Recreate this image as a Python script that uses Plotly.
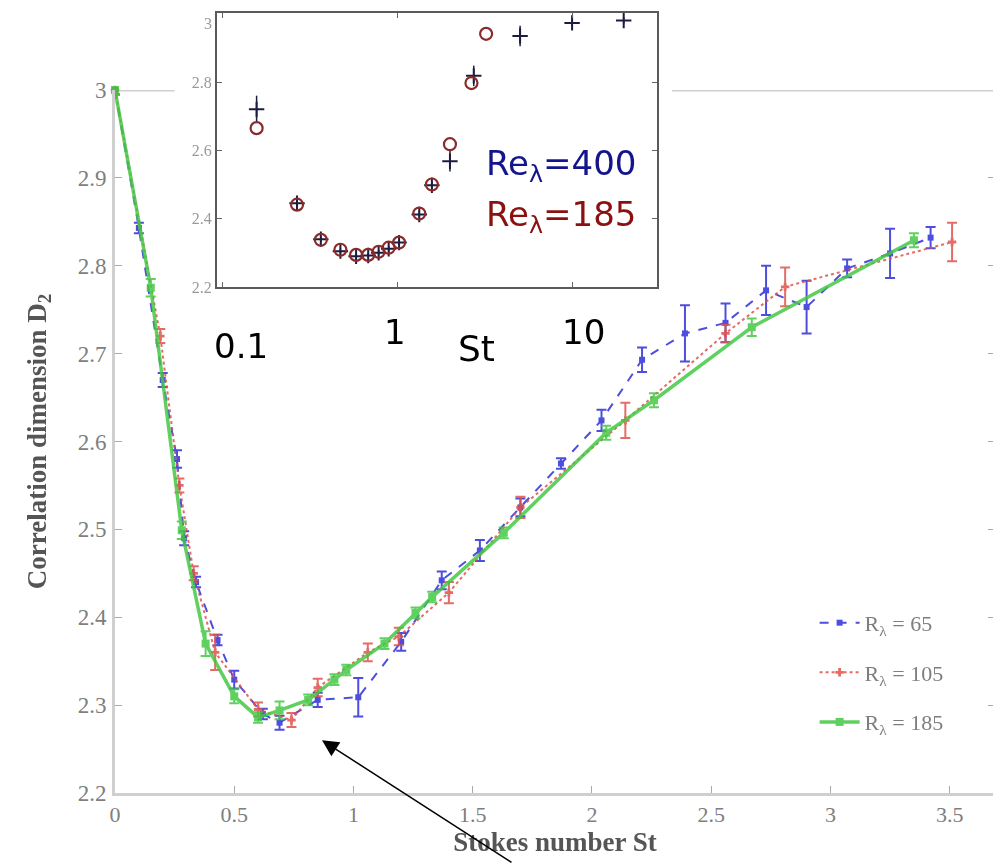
import plotly.graph_objects as go

# ---------------- main panel data (Stokes number vs correlation dimension) ----------------
st_65 = [0.00, 0.10, 0.20, 0.26, 0.29, 0.34, 0.43, 0.50, 0.62, 0.69, 0.85, 1.02, 1.20, 1.37,
         1.53, 1.70, 1.87, 2.04, 2.21, 2.39, 2.56, 2.73, 2.90, 3.07, 3.25, 3.42]
d2_65 = [3.000, 2.843, 2.670, 2.580, 2.490, 2.440, 2.374, 2.329, 2.290, 2.280, 2.306, 2.309, 2.372, 2.442,
         2.476, 2.525, 2.575, 2.624, 2.693, 2.723, 2.735, 2.772, 2.753, 2.797, 2.814, 2.832]
err_65 = [0.005, 0.006, 0.008, 0.010, 0.008, 0.006, 0.006, 0.010, 0.006, 0.008, 0.008, 0.022, 0.010, 0.010,
          0.012, 0.010, 0.006, 0.012, 0.014, 0.032, 0.022, 0.028, 0.030, 0.010, 0.028, 0.012]

st_105 = [0.00, 0.19, 0.27, 0.33, 0.42, 0.60, 0.74, 0.85, 1.06, 1.19, 1.40, 1.70, 2.14, 2.56, 2.81, 3.51]
d2_105 = [3.000, 2.720, 2.550, 2.450, 2.360, 2.295, 2.283, 2.320, 2.360, 2.378, 2.428, 2.525, 2.624, 2.723, 2.776, 2.827]
err_105 = [0.005, 0.008, 0.008, 0.008, 0.020, 0.008, 0.008, 0.010, 0.010, 0.010, 0.012, 0.012, 0.020, 0.010, 0.022, 0.022]

st_185 = [0.00, 0.15, 0.28, 0.38, 0.50, 0.60, 0.69, 0.81, 0.92, 0.97, 1.13, 1.26, 1.33, 1.63, 2.06, 2.26, 2.67, 3.35]
d2_185 = [3.000, 2.775, 2.499, 2.370, 2.310, 2.286, 2.294, 2.306, 2.329, 2.340, 2.370, 2.405, 2.423, 2.496, 2.610, 2.647, 2.730, 2.829]
err_185 = [0.005, 0.010, 0.010, 0.014, 0.008, 0.006, 0.010, 0.006, 0.006, 0.006, 0.006, 0.006, 0.006, 0.006, 0.008, 0.008, 0.010, 0.008]

main_x_ticks = [0, 0.5, 1, 1.5, 2, 2.5, 3, 3.5]
main_x_text = ["0", "0.5", "1", "1.5", "2", "2.5", "3", "3.5"]
main_y_ticks = [2.2, 2.3, 2.4, 2.5, 2.6, 2.7, 2.8, 2.9, 3.0]
main_y_text = ["2.2", "2.3", "2.4", "2.5", "2.6", "2.7", "2.8", "2.9", "3"]

legend_names = ["R<sub>λ</sub> = 65", "R<sub>λ</sub> = 105", "R<sub>λ</sub> = 185"]

# ---------------- inset data (log St) ----------------
inset_st_185 = [0.157, 0.267, 0.365, 0.472, 0.58, 0.68, 0.78, 0.89, 1.02, 1.33, 1.57, 1.99, 2.64, 3.2]
inset_d2_185 = [2.665, 2.441, 2.338, 2.309, 2.294, 2.294, 2.303, 2.315, 2.330, 2.415, 2.500, 2.618, 2.797, 2.941]

inset_st_400 = [0.157, 0.267, 0.365, 0.472, 0.58, 0.68, 0.78, 0.89, 1.02, 1.33, 1.57, 1.99, 2.72, 5.0, 9.9, 19.5]
inset_d2_400 = [2.720, 2.445, 2.340, 2.305, 2.290, 2.292, 2.300, 2.312, 2.330, 2.412, 2.498, 2.568, 2.818, 2.935, 2.973, 2.980]
inset_err_400 = [0.040, 0.010, 0.008, 0.008, 0.008, 0.008, 0.008, 0.008, 0.008, 0.010, 0.010, 0.030, 0.030, 0.030, 0.010, 0.010]

inset_x_ticks = [0.1, 1, 10]
inset_x_text = ["0.1", "1", "10"]
inset_y_ticks = [2.2, 2.4, 2.6, 2.8, 3.0]
inset_y_text = ["2.2", "2.4", "2.6", "2.8", ""]
inset_y_top_label = "3"

BLUE = "#2f2fd8"
RED = "#e0524c"
GREEN = "#44c844"
AXIS_GREY = "#cfcfcf"
TXT_GREY = "#7e7e7e"
SERIF = "Liberation Serif"

fig = go.Figure()

series = [
    (st_65, d2_65, err_65, BLUE, dict(dash="dash", width=2), dict(symbol="square", size=6)),
    (st_105, d2_105, err_105, RED, dict(dash="dot", width=2), dict(symbol="cross", size=7)),
    (st_185, d2_185, err_185, GREEN, dict(width=3.5), dict(symbol="square", size=8)),
]
for i, (xs, ys, es, col, ln, mk) in enumerate(series):
    fig.add_trace(go.Scatter(
        x=xs, y=ys, mode="lines+markers", name=legend_names[i], legendgroup=f"g{i}",
        line=dict(color=col, **ln), marker=dict(color=col, **mk), opacity=0.85,
        error_y=dict(type="data", array=es, color=col, thickness=2, width=5),
        xaxis="x", yaxis="y", cliponaxis=False,
    ))

# inset
fig.add_trace(go.Scatter(
    x=inset_st_400, y=inset_d2_400, mode="markers", showlegend=False,
    marker=dict(symbol="cross-thin", size=11, line=dict(color="#1c1c40", width=2)),
    error_y=dict(type="data", array=inset_err_400, color="#1c1c40", thickness=1.5, width=0),
    xaxis="x2", yaxis="y2",
))
fig.add_trace(go.Scatter(
    x=inset_st_185, y=inset_d2_185, mode="markers", showlegend=False,
    marker=dict(symbol="circle-open", size=12, color="#8b2a2a", line=dict(width=2.2)),
    xaxis="x2", yaxis="y2",
))

MAIN_TOP = 703 / 780

fig.update_layout(
    width=1001, height=863,
    margin=dict(l=107, r=14, t=5, b=78, autoexpand=False),
    paper_bgcolor="white", plot_bgcolor="white",
    showlegend=True,
    legend=dict(x=0.795, y=0.245, xanchor="left", yanchor="top", bgcolor="rgba(0,0,0,0)",
                font=dict(family=SERIF, size=22, color=TXT_GREY), tracegroupgap=18, itemwidth=40),
    xaxis=dict(domain=[0, 1], range=[0, 3.69], anchor="y", tickvals=main_x_ticks, ticktext=main_x_text,
               ticks="inside", ticklen=7, tickcolor="#aaaaaa", showline=True, linecolor=AXIS_GREY, linewidth=3,
               showgrid=False, zeroline=False, automargin=False, ticklabelstandoff=0,
               tickfont=dict(family=SERIF, size=22, color=TXT_GREY),
               title=dict(text="<b>Stokes number St</b>", font=dict(family=SERIF, size=27, color="#555555"),
                          standoff=6)),
    yaxis=dict(domain=[0, MAIN_TOP], range=[2.2, 3.0], anchor="x", tickvals=main_y_ticks, ticktext=main_y_text,
               ticks="inside", ticklen=7, tickcolor="#aaaaaa", showline=True, linecolor=AXIS_GREY, linewidth=3,
               mirror="ticks", showgrid=False, zeroline=False, automargin=False, ticklabelstandoff=1,
               tickfont=dict(family=SERIF, size=23, color=TXT_GREY),
               title=dict(text="<b>Correlation dimension D<sub>2</sub></b>",
                          font=dict(family=SERIF, size=27, color="#555555"), standoff=24)),
    xaxis3=dict(overlaying="x", side="top", anchor="y", range=[0, 3.69], tickvals=[2.5, 3, 3.5],
                ticks="inside", ticklen=6, tickcolor="#aaaaaa", showticklabels=False, showline=False,
                showgrid=False, zeroline=False, automargin=False),
    xaxis2=dict(type="log", domain=[102 / 880, 542 / 880], range=[-1.03, 1.48], anchor="y2",
                tickvals=inset_x_ticks, ticktext=inset_x_text, showticklabels=False,
                ticks="inside", ticklen=5, tickcolor="#666666", showline=True, mirror="ticks",
                linecolor="#5a5a5a", linewidth=2, showgrid=False, zeroline=False, automargin=False),
    yaxis2=dict(domain=[(793 - 287) / 780, 1.0], range=[2.2, 3.002], anchor="x2",
                tickvals=inset_y_ticks, ticktext=inset_y_text,
                ticks="inside", ticklen=5, tickcolor="#666666", showline=True, mirror="ticks",
                linecolor="#5a5a5a", linewidth=2, showgrid=False, zeroline=False, automargin=False,
                tickfont=dict(family=SERIF, size=16, color="#9a9a9a")),
    shapes=[
        dict(type="line", xref="x", yref="y", x0=0, x1=0.25, y0=3.0, y1=3.0,
             line=dict(color=AXIS_GREY, width=3), layer="below"),
        dict(type="line", xref="x", yref="y", x0=2.335, x1=3.69, y0=3.0, y1=3.0,
             line=dict(color=AXIS_GREY, width=3), layer="below"),
    ],
)

BIG = "DejaVu Sans"
ann = []
ann.append(dict(xref="paper", yref="paper", x=102 / 880, y=1.0, xanchor="right", yanchor="top",
                xshift=-3, text=inset_y_top_label, showarrow=False,
                font=dict(family=SERIF, size=16, color="#9a9a9a")))
ann.append(dict(xref="x2", yref="paper", x=-1, y=0.573, text="0.1", showarrow=False, xshift=19,
                font=dict(family=BIG, size=34, color="black")))
ann.append(dict(xref="x2", yref="paper", x=0, y=0.591, text="1", showarrow=False, xshift=-3,
                font=dict(family=BIG, size=34, color="black")))
ann.append(dict(xref="x2", yref="paper", x=1, y=0.591, text="10", showarrow=False, xshift=11,
                font=dict(family=BIG, size=34, color="black")))
ann.append(dict(xref="paper", yref="paper", x=(476 - 115) / 880, y=0.570, text="St", showarrow=False,
                font=dict(family=BIG, size=36, color="black")))
ann.append(dict(xref="paper", yref="paper", x=(561 - 115) / 880, y=0.836, text="Re<sub>λ</sub>=400",
                showarrow=False, font=dict(family=BIG, size=34, color="#14148c")))
ann.append(dict(xref="paper", yref="paper", x=(561 - 115) / 880, y=0.770, text="Re<sub>λ</sub>=185",
                showarrow=False, font=dict(family=BIG, size=34, color="#8b1010")))
ann.append(dict(xref="x", yref="y", x=0.868, y=2.26, text="", showarrow=True, ax=191, ay=123,
                arrowhead=2, arrowsize=2.2, arrowwidth=1.5, arrowcolor="black"))
fig.update_layout(annotations=ann)

fig.write_html("out.html")
